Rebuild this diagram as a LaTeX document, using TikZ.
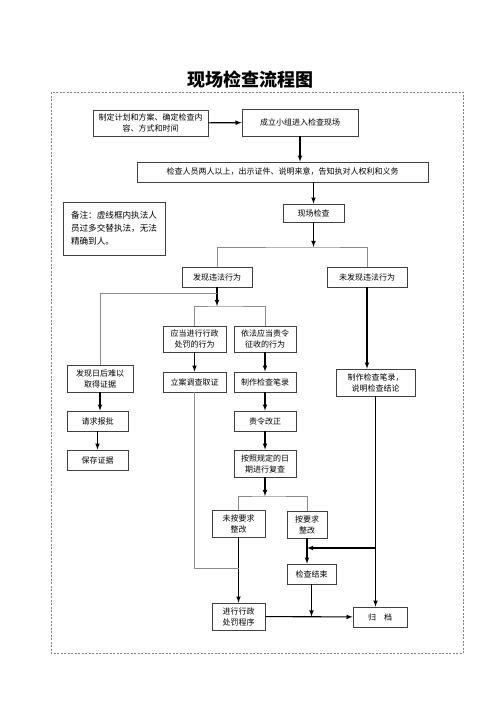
\documentclass[tikz,border=0pt]{standalone}
\usepackage{fontspec}
\newfontfamily\cjk{Noto Sans CJK SC}
\begin{document}
\begin{tikzpicture}[x=1pt, y=-1pt,
  box/.style 2 args={draw=black!75, line width=0.8pt, align=center, inner sep=0pt,
    minimum width=#1pt, minimum height=#2pt, font=\cjk\fontsize{8}{11}\selectfont},
  link/.style={draw=black!45, line width=0.8pt},
  arrow/.style={-latex, line width=1.1pt, black}]
\useasboundingbox (0,0) rectangle (500,707);
% Draw title and frame
\node (title) at (250,80) {\cjk\fontsize{18}{18}\selectfont\bfseries 现场检查流程图};
\draw[gray, dash pattern=on 2pt off 1.5pt] (51,92) rectangle (463,653);
% Draw boxes
\node[box={115}{26}] (plan) at (150.5,123) {制定计划和方案、确定检查内\\容、方式和时间};
\node[box={116}{27}] (team) at (300,122.5) {成立小组进入检查现场};
\node[box={291}{20}] (notify) at (282.5,172) {检查人员两人以上，出示证件、说明来意，告知执对人权利和义务};
\node[box={61}{18}] (site) at (313.5,213) {现场检查};
\node[box={102}{53}, align=left, font=\cjk\fontsize{8.6}{13}\selectfont] (note) at (114,228.5)
  {备注：虚线框内执法人\\员过多交替执法，无法\\精确到人。};
\node[box={70}{20}] (found) at (217,277) {发现违法行为};
\node[box={80}{20}] (nofound) at (367,277) {未发现违法行为};
\node[box={63}{26}] (punishcase) at (194.5,339) {应当进行行政\\处罚的行为};
\node[box={62}{26}] (ordercase) at (265,339) {依法应当责令\\征收的行为};
\node[box={66}{27}] (hard) at (100,378.5) {发现日后难以\\取得证据};
\node[box={63}{20}] (invest) at (194.5,382) {立案调查取证};
\node[box={62}{20}] (record) at (265,382) {制作检查笔录};
\node[box={79}{27}] (conclude) at (375.5,382.5) {制作检查笔录，\\说明检查结论};
\node[box={61}{20}] (approve) at (97.5,421) {请求报批};
\node[box={62}{20}] (correct) at (265,421) {责令改正};
\node[box={61}{20}] (keep) at (97.5,460) {保存证据};
\node[box={62}{27}] (recheck) at (265,463.5) {按照规定的日\\期进行复查};
\node[box={53}{27}] (fail) at (238.5,523.5) {未按要求\\整改};
\node[box={40}{27}] (pass) at (307,524.5) {按要求\\整改};
\node[box={49}{20}] (finish) at (311.5,574) {检查结束};
\node[box={53}{27}] (punish) at (238.5,616.5) {进行行政\\处罚程序};
\node[box={54}{20}] (archive) at (380,617) {归\quad 档};
% Branch points
\coordinate (split1) at (313,247);
\coordinate (split2) at (221,306);
\coordinate (split3) at (221,293);
\coordinate (split4) at (265,496);
\coordinate (joinK) at (238.5,568);
\coordinate (joinM) at (376,548);
% Draw arrows
\draw[arrow] (plan) -- (team);
\foreach \a/\b in {team/notify, hard/approve, approve/keep, punishcase/invest, ordercase/record,
    record/correct, correct/recheck, fail/punish, nofound/conclude, pass/finish, conclude/archive}
  \draw[arrow] (\a.south) -- (\a.south |- \b.north);
\draw[arrow] (site.north |- notify.south) -- (site.north);
\draw[arrow] (site.south) -- (site.south |- split1);
\draw[arrow] (found.south) -- (found.south |- split2);
\draw[arrow] (recheck.south) -- (recheck.south |- split4);
\draw[arrow] (conclude.south |- joinM) -- (pass.south |- joinM);
\draw[arrow] (punish) -- (archive);
\draw[arrow] (finish.south) -- (finish.south |- punish.east);
% Draw branch lines
\draw[link] (found.north) |- (split1) -| (nofound.north);
\draw[link] (punishcase.north) |- (split2) -| (ordercase.north);
\draw[link] (found.south |- split3) -| (hard.north);
\draw[link] (fail.north) |- (split4) -| (pass.north);
\draw[link] (invest.south) |- (joinK);
\end{tikzpicture}
\end{document}
